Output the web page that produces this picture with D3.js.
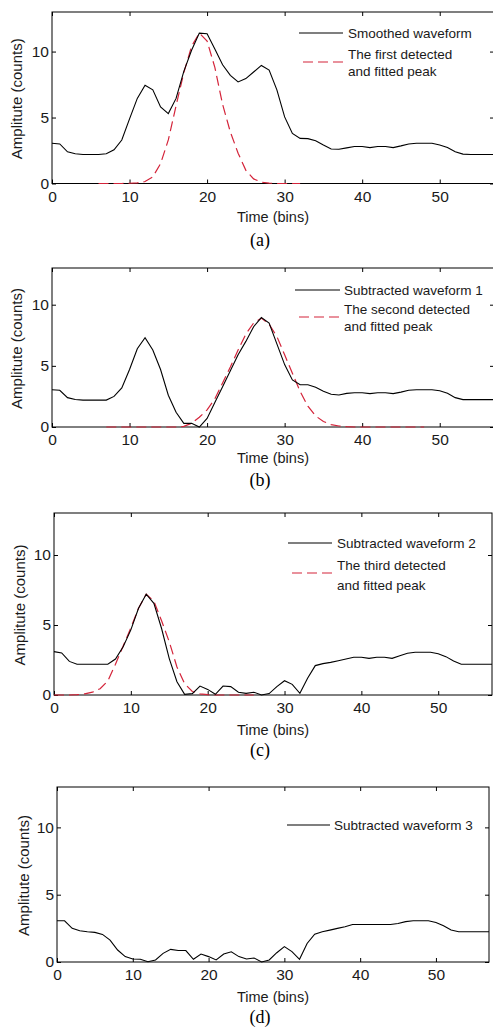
<!DOCTYPE html>
<html>
<head>
<meta charset="utf-8">
<script src="https://cdn.jsdelivr.net/npm/d3@7/dist/d3.min.js"></script>
<style>
  body { margin: 0; background: #fff; }
  text { font-family: "Liberation Sans", Arial, sans-serif; fill: #1a1a1a; }
  .caption { font-family: "Liberation Serif", "Times New Roman", serif; fill: #000; }
</style>
</head>
<body>
<svg id="fig" width="493" height="1032"></svg>
<script>
// amplitude per time bin, bins 0..57
const smoothed = [3.05, 3.0, 2.4, 2.25, 2.2, 2.2, 2.2, 2.25, 2.55, 3.3, 4.9, 6.45, 7.45, 7.1, 5.8, 5.3, 6.45, 8.5, 10.1, 11.4,
  11.35, 10.2, 9.0, 8.2, 7.7, 7.95, 8.45, 8.95, 8.6, 7.1, 5.05, 3.8, 3.42, 3.4, 3.24, 2.92, 2.62, 2.6, 2.7, 2.8,
  2.8, 2.72, 2.8, 2.8, 2.72, 2.85, 3.0, 3.05, 3.05, 3.05, 2.92, 2.73, 2.4, 2.23, 2.2, 2.2, 2.2, 2.2];
const subtracted1 = [3.05, 3.0, 2.4, 2.25, 2.2, 2.2, 2.2, 2.2, 2.5, 3.2, 4.7, 6.4, 7.3, 6.3, 4.7, 2.6, 1.2, 0.3, 0.3, 0.0,
  0.7, 2.0, 3.3, 4.6, 5.9, 7.0, 8.2, 8.95, 8.5, 6.8, 5.1, 3.85, 3.45, 3.45, 3.25, 2.92, 2.68, 2.62, 2.75, 2.8,
  2.8, 2.73, 2.8, 2.8, 2.73, 2.85, 3.0, 3.05, 3.05, 3.05, 2.97, 2.76, 2.4, 2.24, 2.24, 2.24, 2.24, 2.24];
const subtracted2 = [3.1, 3.0, 2.4, 2.2, 2.2, 2.2, 2.2, 2.2, 2.57, 3.45, 4.65, 6.2, 7.2, 6.55, 4.75, 2.6, 0.95, 0.05, 0.1, 0.64,
  0.4, 0.05, 0.64, 0.6, 0.2, 0.12, 0.2, 0.0, 0.1, 0.6, 1.02, 0.76, 0.12, 1.2, 2.1, 2.24, 2.33, 2.45, 2.57, 2.7,
  2.7, 2.62, 2.7, 2.7, 2.62, 2.81, 2.98, 3.05, 3.05, 3.05, 2.95, 2.74, 2.43, 2.2, 2.2, 2.2, 2.2, 2.2];
const subtracted3 = [3.06, 3.06, 2.5, 2.32, 2.25, 2.2, 2.05, 1.63, 0.89, 0.4, 0.22, 0.2, 0.02, 0.15, 0.64, 0.94, 0.85, 0.85, 0.2, 0.59,
  0.4, 0.15, 0.59, 0.76, 0.4, 0.22, 0.3, 0.0, 0.15, 0.69, 1.14, 0.77, 0.2, 1.38, 2.07, 2.25, 2.37, 2.5, 2.62, 2.79,
  2.79, 2.79, 2.79, 2.79, 2.79, 2.86, 3.0, 3.06, 3.06, 3.06, 2.94, 2.69, 2.37, 2.25, 2.25, 2.25, 2.25, 2.25];

// fitted peaks, each with its first bin
const peak1Start = 6;
const peak1 = [0, 0, 0, 0, 0.02, 0.05, 0.15, 0.5, 1.5, 3.3, 5.9, 8.4, 10.4, 11.4, 10.8, 8.8, 6.0, 3.9, 2.3, 1.0,
  0.35, 0.1, 0.03, 0, 0, 0, 0];
const peak2Start = 7;
const peak2 = [0, 0, 0, 0, 0, 0, 0, 0, 0, 0, 0.05, 0.3, 0.8, 1.4, 2.3, 3.6, 4.9, 6.3, 7.6, 8.5,
  8.9, 8.4, 7.4, 5.9, 4.4, 2.9, 1.7, 0.9, 0.45, 0.2, 0.08, 0.03, 0, 0, 0, 0, 0, 0, 0, 0, 0, 0];
const peak3Start = 0;
const peak3 = [0, 0, 0, 0.02, 0.08, 0.2, 0.45, 1.0, 2.2, 3.5, 4.8, 6.2, 7.2, 6.7, 5.3, 3.8, 2.0, 0.8, 0.25, 0.08,
  0.02, 0, 0, 0, 0, 0, 0];

const xTicks = [0, 10, 20, 30, 40, 50];
const yTicks = [0, 5, 10];
const xLabel = "Time (bins)";
const yLabel = "Amplitute (counts)";
const captions = ["(a)", "(b)", "(c)", "(d)"];
const waveNames = ["Smoothed waveform", "Subtracted waveform 1", "Subtracted waveform 2", "Subtracted waveform 3"];
const peakNames = [
  ["The first detected", "and fitted peak"],
  ["The second detected", "and fitted peak"],
  ["The third detected", "and fitted peak"]
];

const svg = d3.select("#fig");
const red = "#d4243a";

// pixel layout of each panel
const panels = [
  {wave: smoothed, peak: peak1, peakStart: peak1Start,
   top: 12, bottom: 183.5, left: 52, right: 494, ylx: 22, xlb: 222, capy: 246,
   lg: {x0: 299, x1: 343, tx: 348, y1: 33, y2: 62, t1: 54, t2: 71}},
  {wave: subtracted1, peak: peak2, peakStart: peak2Start,
   top: 268, bottom: 427, left: 52, right: 494, ylx: 22, xlb: 463, capy: 486,
   lg: {x0: 295, x1: 340, tx: 344, y1: 290, y2: 317, t1: 309.5, t2: 326}},
  {wave: subtracted2, peak: peak3, peakStart: peak3Start,
   top: 513, bottom: 695, left: 54, right: 492, ylx: 25, xlb: 735, capy: 756,
   lg: {x0: 288, x1: 332, tx: 337, y1: 543, y2: 573, t1: 565, t2: 585}},
  {wave: subtracted3, peak: null,
   top: 787, bottom: 962, left: 57, right: 489, ylx: 29, xlb: 1002, capy: 1023,
   lg: {x0: 287, x1: 330, tx: 334, y1: 825}}
];

panels.forEach((p, k) => drawPanel(p, k));

function drawPanel(p, k) {
  const x = d3.scaleLinear().domain([0, 57]).range([p.left, p.right]);
  const y = d3.scaleLinear().domain([0, 13]).range([p.bottom, p.top]);
  const g = svg.append("g");

  // inward ticks on all four sides, MATLAB style
  const bottomAxis = g.append("g")
    .attr("transform", `translate(0,${p.bottom})`)
    .call(d3.axisBottom(x).tickValues(xTicks).tickSizeInner(-4).tickSizeOuter(0).tickPadding(7));
  const leftAxis = g.append("g")
    .attr("transform", `translate(${p.left},0)`)
    .call(d3.axisLeft(y).tickValues(yTicks).tickSizeInner(-4).tickSizeOuter(0).tickPadding(3));
  g.append("g")
    .attr("transform", `translate(0,${p.top})`)
    .call(d3.axisTop(x).tickValues(xTicks).tickSizeInner(-4).tickSizeOuter(0).tickFormat(""));
  g.append("g")
    .attr("transform", `translate(${p.right},0)`)
    .call(d3.axisRight(y).tickValues(yTicks).tickSizeInner(-4).tickSizeOuter(0).tickFormat(""));

  g.selectAll(".domain").remove();
  g.selectAll(".tick line").attr("stroke", "#000");
  [bottomAxis, leftAxis].forEach(a => a.attr("font-family", null).attr("font-size", null)
    .selectAll("text").attr("fill", null).style("font-size", "15.5px"));

  g.append("rect")
    .attr("x", p.left).attr("y", p.top)
    .attr("width", p.right - p.left).attr("height", p.bottom - p.top)
    .attr("fill", "none").attr("stroke", "#000").attr("stroke-width", 1);

  if (p.peak) {
    const peakLine = d3.line()
      .x((d, i) => x(i + p.peakStart))
      .y(d => y(d));
    g.append("path")
      .datum(p.peak)
      .attr("d", peakLine)
      .attr("fill", "none")
      .attr("stroke", red)
      .attr("stroke-width", 1.2)
      .attr("stroke-dasharray", "10,5");
  }

  const waveLine = d3.line()
    .x((d, i) => x(i))
    .y(d => y(d));
  g.append("path")
    .datum(p.wave)
    .attr("d", waveLine)
    .attr("fill", "none")
    .attr("stroke", "#000")
    .attr("stroke-width", 1.1);

  // legend, no box
  const lg = p.lg;
  g.append("line")
    .attr("x1", lg.x0).attr("x2", lg.x1).attr("y1", lg.y1).attr("y2", lg.y1)
    .attr("stroke", "#000").attr("stroke-width", 1.1);
  g.append("text")
    .attr("x", lg.tx).attr("y", lg.y1).attr("dy", "0.35em")
    .style("font-size", "13.5px")
    .text(waveNames[k]);
  if (p.peak) {
    g.append("line")
      .attr("x1", lg.x0 + 4).attr("x2", lg.x1).attr("y1", lg.y2).attr("y2", lg.y2)
      .attr("stroke", red).attr("stroke-width", 1.2).attr("stroke-dasharray", "10,5");
    g.append("text")
      .attr("x", lg.tx).attr("y", lg.t1).attr("dy", "0.35em")
      .style("font-size", "13.5px")
      .text(peakNames[k][0]);
    g.append("text")
      .attr("x", lg.tx).attr("y", lg.t2).attr("dy", "0.35em")
      .style("font-size", "13.5px")
      .text(peakNames[k][1]);
  }

  g.append("text")
    .attr("x", (p.left + p.right) / 2).attr("y", p.xlb)
    .attr("text-anchor", "middle")
    .style("font-size", "14.5px")
    .text(xLabel);

  g.append("text")
    .attr("transform", `translate(${p.ylx},${(p.top + p.bottom) / 2 + 1}) rotate(-90)`)
    .attr("text-anchor", "middle")
    .style("font-size", "15px")
    .text(yLabel);

  g.append("text")
    .attr("class", "caption")
    .attr("x", 260).attr("y", p.capy)
    .attr("text-anchor", "middle")
    .style("font-size", "18px")
    .text(captions[k]);
}
</script>
</body>
</html>
